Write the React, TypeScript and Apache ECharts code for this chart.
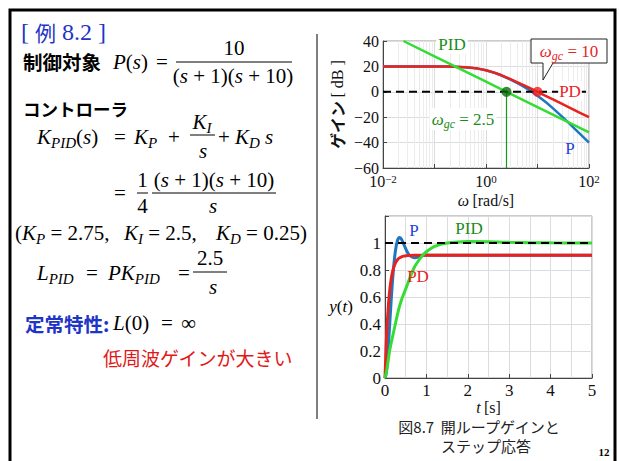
import React, { useEffect, useRef } from "react";
import * as echarts from "echarts";

// ---------- data ----------
const bodeOmega = [0.01, 0.1, 0.2, 0.3, 0.4, 0.5, 0.7, 1, 1.5, 2, 3, 4, 5, 7, 10, 15, 20, 30, 40, 50, 70, 100];
const gainP = [20.0, 19.96, 19.83, 19.62, 19.35, 19.02, 18.24, 16.95, 14.79, 12.84, 9.63, 7.06, 4.88, 1.3, -3.05, -8.66, -13.02, -19.55, -24.34, -28.13, -33.89, -40.04];
const gainPD = [20.0, 19.96, 19.83, 19.62, 19.36, 19.03, 18.26, 16.99, 14.89, 13.01, 10.0, 7.7, 5.85, 3.03, -0.04, -3.54, -6.03, -9.55, -12.04, -13.98, -16.9, -20.0];
const pidOmega = [0.025, 0.1, 1, 2.5, 10, 100];
const gainPID = [40, 27.96, 7.96, 0, -12.04, -32.04];
const crossPID = [2.5, 0];
const crossPD = [10, 0];

const stepTime = [0, 0.025, 0.05, 0.1, 0.15, 0.2, 0.25, 0.3, 0.35, 0.4, 0.45, 0.5, 0.55, 0.6, 0.7, 0.8, 0.9, 1.0, 1.2, 1.5, 2, 2.5, 3, 4, 5];
const stepP = [0, 0.028, 0.103, 0.329, 0.579, 0.792, 0.938, 1.017, 1.04, 1.027, 0.994, 0.958, 0.927, 0.906, 0.89, 0.897, 0.906, 0.911, 0.909, 0.909, 0.909, 0.909, 0.909, 0.909, 0.909];
const stepPD = [0, 0.219, 0.385, 0.607, 0.735, 0.808, 0.851, 0.876, 0.89, 0.898, 0.903, 0.905, 0.907, 0.908, 0.909, 0.909, 0.909, 0.909, 0.909, 0.909, 0.909, 0.909, 0.909, 0.909, 0.909];
const stepPID = [0, 0.035, 0.07, 0.18, 0.26, 0.33, 0.4, 0.47, 0.53, 0.58, 0.62, 0.66, 0.7, 0.74, 0.815, 0.865, 0.905, 0.935, 0.975, 1.0, 1.012, 1.01, 1.005, 1.001, 1.0];

const bodeYTicks = [-60, 40, 20];
const stepYTicks = [0, 1.2, 0.2];

// ---------- styles ----------
const SERIF = '"Liberation Serif", "Times New Roman", serif';
const JP = '"Noto Sans CJK JP", sans-serif';
const GREEN_LINE = "#33dd33";
const GREEN_TEXT = "#1a8c1a";
const RED = "#e8231f";
const BLUE_LINE = "#1f77c0";
const BLUE_TEXT = "#1f3fe0";
const SLIDE_BLUE = "#1f35c6";

function mathRich(color: string, fs = 21, lh = 27) {
  const sub = Math.round(fs * 0.72);
  return {
    i: { fill: color, color, fontFamily: SERIF, fontStyle: "italic", fontSize: fs, lineHeight: lh },
    r: { fill: color, color, fontFamily: SERIF, fontSize: fs, lineHeight: lh },
    s: { fill: color, color, fontFamily: SERIF, fontStyle: "italic", fontSize: sub, lineHeight: sub + 1, verticalAlign: "bottom" },
    j: { fill: color, color, fontFamily: JP, fontSize: fs, lineHeight: lh },
    jb: { fill: color, color, fontFamily: JP, fontWeight: "bold", fontSize: fs, lineHeight: lh },
  };
}

function txt(x: number, y: number, text: string, rich: any, align = "left", extra: any = {}) {
  return {
    type: "text",
    x,
    y,
    z: 50,
    style: { text, rich, align, verticalAlign: "middle", textAlign: align, textVerticalAlign: "middle", ...extra },
  };
}
function ln(x1: number, y1: number, x2: number, y2: number, color = "#000", w = 1, z = 50) {
  return { type: "line", z, shape: { x1, y1, x2, y2 }, style: { stroke: color, lineWidth: w } };
}

export default function App() {
  const ref = useRef<HTMLDivElement>(null);
  useEffect(() => {
    if (!ref.current) return;
    const chart = echarts.init(ref.current, undefined, { renderer: "svg" });
    const K = mathRich("#000");
    const minorOmega: number[] = [];
    [0.01, 0.1, 1, 10].forEach((d) => {
      for (let k = 2; k <= 9; k++) minorOmega.push(+(d * k).toPrecision(3));
    });
    const tickLabel = { fontFamily: SERIF, fontSize: 16, color: "#111" };
    const axLine = { show: true, onZero: false, lineStyle: { color: "#444", width: 1 } };
    const axTick = { show: true, inside: true, length: 4, lineStyle: { color: "#444" } };
    const cap = { j: { fill: "#222", fontFamily: JP, fontSize: 15, lineHeight: 16 } };

    const graphics: any[] = [
      // slide frame and separator
      { type: "polyline", z: 40, shape: { points: [[10, 470], [10, 10], [615, 10], [615, 470]] }, style: { stroke: "#000", lineWidth: 3, fill: null } },
      ln(317, 34, 317, 419, "#555", 1.5),
      // title
      txt(21, 32, "{b|[ }{j|例}{b| 8.2 ]}", {
        b: { fill: SLIDE_BLUE, fontFamily: SERIF, fontSize: 24, lineHeight: 28 },
        j: { fill: SLIDE_BLUE, fontFamily: JP, fontSize: 21, lineHeight: 28 },
      }),
      // plant
      txt(23, 61, "{jb|制御対象}", mathRich("#000", 19.5)),
      txt(113, 62, "{i|P}{r|(}{i|s}{r|)}", K),
      txt(156, 62, "{r|=}", K),
      txt(234, 48, "{r|10}", K, "center"),
      ln(176, 62, 292, 62),
      txt(233, 76, "{r|(}{i|s}{r| + 1)(}{i|s}{r| + 10)}", K, "center"),
      // controller
      txt(23, 108, "{jb|コントローラ}", mathRich("#000", 17.5)),
      txt(37, 137, "{i|K}{s|PID}{r|(}{i|s}{r|)}", K),
      txt(114, 137, "{r|=}", K),
      txt(134, 137, "{i|K}{s|P}", K),
      txt(168, 137, "{r|+}", K),
      txt(202, 122, "{i|K}{s|I}", K, "center"),
      ln(190, 135, 215, 135),
      txt(203, 151, "{i|s}", K, "center"),
      txt(218, 137, "{r|+}", K),
      txt(235, 137, "{i|K}{s|D}{i| s}", K),
      txt(114, 193, "{r|=}", K),
      txt(142.5, 180, "{r|1}", K, "center"),
      ln(137, 193, 148, 193),
      txt(142.5, 206, "{r|4}", K, "center"),
      txt(214, 180, "{r|(}{i|s}{r| + 1)(}{i|s}{r| + 10)}", K, "center"),
      ln(152, 193, 276, 193),
      txt(213, 206, "{i|s}", K, "center"),
      txt(15, 233, "{r|(}{i|K}{s|P}{r| = 2.75,}", K),
      txt(124, 233, "{i|K}{s|I}{r| = 2.5,}", K),
      txt(216, 233, "{i|K}{s|D}{r| = 0.25)}", K),
      txt(37, 273, "{i|L}{s|PID}", K),
      txt(86, 273, "{r|=}", K),
      txt(108, 273, "{i|PK}{s|PID}", K),
      txt(178, 273, "{r|=}", K),
      txt(210, 258, "{r|2.5}", K, "center"),
      ln(193, 272, 227, 272),
      txt(213, 287, "{i|s}", K, "center"),
      txt(25, 323, "{jb|定常特性:}", mathRich(SLIDE_BLUE, 19.5)),
      txt(113, 323, "{i|L}{r|(0)}", K),
      txt(161, 323, "{r|=}", K),
      txt(181, 323, "{r|∞}", K),
      txt(103, 357, "{j|低周波ゲインが大きい}", { j: { fill: "#e01818", fontFamily: JP, fontSize: 19, lineHeight: 24 } }),
      // bode annotations
      txt(452, 44, "{r|PID}", mathRich(GREEN_TEXT, 17, 20), "center", { backgroundColor: "#fff", padding: [0, 2] }),
      {
        type: "polygon",
        z: 60,
        shape: { points: [[531, 39], [607, 39], [607, 63], [553, 63], [543, 80], [543, 63], [531, 63]] },
        style: { fill: "#fff", stroke: "#222", lineWidth: 1 },
      },
      { ...txt(569, 51, "{i|ω}{s|gc}{r| = 10}", mathRich(RED, 17, 22), "center"), z: 61 },
      txt(570, 91, "{r|PD}", mathRich(RED, 17, 20), "center", { backgroundColor: "#fff", padding: [0, 1] }),
      txt(570, 148, "{r|P}", mathRich(BLUE_TEXT, 17, 20), "center"),
      txt(463, 119, "{i|ω}{s|gc}{r| = 2.5}", mathRich(GREEN_TEXT, 17, 22), "center", { backgroundColor: "#fff", padding: [0, 2] }),
      // step annotations
      txt(414, 230, "{r|P}", mathRich(BLUE_TEXT, 17, 20), "center"),
      txt(469, 228, "{r|PID}", mathRich(GREEN_TEXT, 17, 20), "center"),
      txt(418, 276, "{r|PD}", mathRich(RED, 17, 20), "center"),
      txt(341, 306, "{i|y}{r|(}{i|t}{r|)}", mathRich("#000", 17, 20), "center"),
      // caption
      txt(479, 426, "{j|図8.7  開ループゲインと}", cap, "center"),
      txt(486, 445, "{j|ステップ応答}", cap, "center"),
      txt(604, 452, "{b|12}", { b: { fill: "#000", fontFamily: SERIF, fontWeight: "bold", fontSize: 11, lineHeight: 12 } }, "center"),
    ];

    const option: any = {
      animation: false,
      backgroundColor: "#fff",
      grid: [
        { left: 383, top: 41, width: 206, height: 127, show: true, borderColor: "#999", borderWidth: 1, containLabel: false },
        { left: 385, top: 216, width: 207, height: 162, show: true, borderColor: "#999", borderWidth: 1, containLabel: false },
      ],
      xAxis: [
        {
          gridIndex: 0,
          type: "log",
          logBase: 10,
          min: 0.01,
          max: 100,
          axisLine: axLine,
          axisTick: axTick,
          splitLine: { show: true, lineStyle: { color: "#dcdcdc" } },
          axisLabel: {
            ...tickLabel,
            margin: 5,
            formatter: (v: number) => {
              const e = Math.round(Math.log10(v));
              if (e % 2 !== 0) return "";
              return `{b|10}{e|${e < 0 ? "−" : ""}${Math.abs(e)}}`;
            },
            rich: {
              b: { fontFamily: SERIF, fontSize: 16, color: "#111", lineHeight: 16 },
              e: { fontFamily: SERIF, fontSize: 11, color: "#111", lineHeight: 8, verticalAlign: "top" },
            },
          },
          name: "{i|ω} {r|[rad/s]}",
          nameLocation: "middle",
          nameGap: 23,
          nameTextStyle: {
            rich: {
              i: { fontFamily: SERIF, fontStyle: "italic", fontSize: 16, color: "#111", lineHeight: 18 },
              r: { fontFamily: SERIF, fontSize: 16, color: "#111", lineHeight: 18 },
            },
          },
        },
        {
          gridIndex: 1,
          type: "value",
          min: 0,
          max: 5,
          interval: 1,
          axisLine: axLine,
          axisTick: axTick,
          splitLine: { show: true, lineStyle: { color: "#dcdcdc" } },
          minorTick: { show: false, splitNumber: 2 },
          minorSplitLine: { show: true, lineStyle: { color: "#dcdcdc" } },
          axisLabel: { ...tickLabel, fontSize: 17, margin: 4 },
          name: "{i|t} {r|[s]}",
          nameLocation: "middle",
          nameGap: 19,
          nameTextStyle: {
            rich: {
              i: { fontFamily: SERIF, fontStyle: "italic", fontSize: 16, color: "#111", lineHeight: 15 },
              r: { fontFamily: SERIF, fontSize: 16, color: "#111", lineHeight: 15 },
            },
          },
        },
      ],
      yAxis: [
        {
          gridIndex: 0,
          type: "value",
          min: bodeYTicks[0],
          max: bodeYTicks[1],
          interval: bodeYTicks[2],
          axisLine: axLine,
          axisTick: axTick,
          splitLine: { show: true, lineStyle: { color: "#dcdcdc" } },
          axisLabel: { ...tickLabel, margin: 4, lineHeight: 10, formatter: (v: number) => (v < 0 ? "−" + Math.abs(v) : String(v)) },
          name: "{j|ゲイン} {r|[ dB ]}",
          nameLocation: "middle",
          nameRotate: 90,
          nameGap: 38,
          nameTextStyle: {
            rich: {
              j: { fontFamily: JP, fontWeight: "bold", fontSize: 16, color: "#111" },
              r: { fontFamily: SERIF, fontSize: 16, color: "#111" },
            },
          },
        },
        {
          gridIndex: 1,
          type: "value",
          min: stepYTicks[0],
          max: stepYTicks[1],
          interval: stepYTicks[2],
          axisLine: axLine,
          axisTick: axTick,
          splitLine: { show: true, lineStyle: { color: "#dcdcdc" } },
          axisLabel: {
            ...tickLabel,
            fontSize: 17,
            margin: 4,
            formatter: (v: number) => (v > 1.1 ? "" : String(Math.round(v * 10) / 10)),
          },
        },
      ],
      series: [
        {
          type: "line",
          xAxisIndex: 0,
          yAxisIndex: 0,
          data: [],
          silent: true,
          z: 1,
          markLine: {
            z: 1,
            silent: true,
            symbol: "none",
            label: { show: false },
            lineStyle: { color: "#ececec", type: "solid", width: 1 },
            data: minorOmega.map((v) => ({ xAxis: v })),
          },
        },
        {
          name: "P",
          type: "line",
          xAxisIndex: 0,
          yAxisIndex: 0,
          z: 3,
          showSymbol: false,
          data: bodeOmega.map((w, i) => [w, gainP[i]]),
          lineStyle: { color: BLUE_LINE, width: 2.5 },
          itemStyle: { color: BLUE_LINE },
        },
        {
          name: "PD",
          type: "line",
          xAxisIndex: 0,
          yAxisIndex: 0,
          z: 3,
          showSymbol: false,
          data: bodeOmega.map((w, i) => [w, gainPD[i]]),
          lineStyle: { color: RED, width: 2.5 },
          itemStyle: { color: RED },
        },
        {
          name: "PID",
          type: "line",
          xAxisIndex: 0,
          yAxisIndex: 0,
          z: 3,
          showSymbol: false,
          data: pidOmega.map((w, i) => [w, gainPID[i]]),
          lineStyle: { color: GREEN_LINE, width: 2.5 },
          itemStyle: { color: GREEN_LINE },
        },
        {
          type: "line",
          xAxisIndex: 0,
          yAxisIndex: 0,
          z: 3,
          showSymbol: false,
          data: [[crossPID[0], crossPID[1]], [crossPID[0], bodeYTicks[0]]],
          lineStyle: { color: "#179a17", width: 1.2 },
        },
        {
          type: "line",
          xAxisIndex: 0,
          yAxisIndex: 0,
          z: 4,
          showSymbol: false,
          data: [[0.01, 0], [100, 0]],
          lineStyle: { color: "#000", width: 2, type: [8, 5] },
        },
        {
          type: "scatter",
          xAxisIndex: 0,
          yAxisIndex: 0,
          z: 5,
          symbolSize: 10,
          data: [{ value: crossPID, itemStyle: { color: "#0d6a0d" } }, { value: crossPD, itemStyle: { color: "#f02020" } }],
        },
        // step
        {
          name: "P",
          type: "line",
          xAxisIndex: 1,
          yAxisIndex: 1,
          z: 3,
          showSymbol: false,
          smooth: 0.3,
          data: stepTime.map((t, i) => [t, stepP[i]]),
          lineStyle: { color: BLUE_LINE, width: 3 },
        },
        {
          name: "PD",
          type: "line",
          xAxisIndex: 1,
          yAxisIndex: 1,
          z: 3,
          showSymbol: false,
          smooth: 0.3,
          data: stepTime.map((t, i) => [t, stepPD[i]]),
          lineStyle: { color: RED, width: 3 },
        },
        {
          name: "PID",
          type: "line",
          xAxisIndex: 1,
          yAxisIndex: 1,
          z: 3,
          showSymbol: false,
          smooth: 0.3,
          data: stepTime.map((t, i) => [t, stepPID[i]]),
          lineStyle: { color: GREEN_LINE, width: 3 },
        },
        {
          type: "line",
          xAxisIndex: 1,
          yAxisIndex: 1,
          z: 4,
          showSymbol: false,
          data: [[0, 1], [5, 1]],
          lineStyle: { color: "#000", width: 2, type: [8, 5] },
        },
      ],
      graphic: { elements: graphics },
    };
    chart.setOption(option);
    return () => chart.dispose();
  }, []);
  return <div ref={ref} style={{ position: "fixed", left: 0, top: 0, width: 619, height: 461, background: "#fff" }} />;
}
